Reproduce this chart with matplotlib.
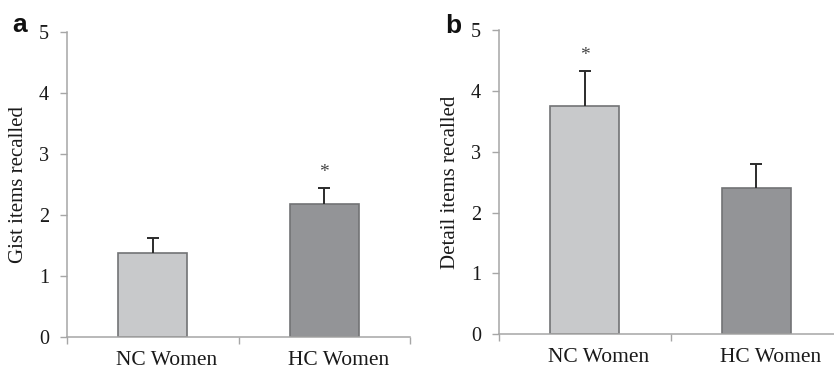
import matplotlib
matplotlib.use("Agg")
import matplotlib.pyplot as plt
from matplotlib.transforms import ScaledTranslation

categories = ["NC Women", "HC Women"]
gist_means = [1.37, 2.18]
gist_err = [0.26, 0.27]
detail_means = [3.75, 2.41]
detail_err = [0.57, 0.39]
gist_sig = [False, True]
detail_sig = [True, False]
yticks = [0, 1, 2, 3, 4, 5]

bar_colors = ["#c8c9cb", "#939497"]
edge_col = "#727375"
axis_col = "#a6a6a6"
text_col = "#1a1a1a"

plt.rcParams["font.family"] = ["Liberation Serif", "DejaVu Serif"]

fig = plt.figure(figsize=(8.34, 3.71), dpi=100)
ax_a = fig.add_axes([67/834, 34/371, 343/834, 305/371])
ax_b = fig.add_axes([499/834, 36.7/371, 343/834, 304.3/371])

def draw(ax, means, errs, sig, ylabel, letter, lx, ly):
    centers = [i + 0.5 for i in range(len(categories))]
    ax.bar(centers, means, width=0.4, color=bar_colors, edgecolor=edge_col,
           linewidth=1.2, zorder=2)
    eb = ax.errorbar(centers, means, yerr=[[0]*len(errs), errs], fmt="none",
                     ecolor="#2b2b2b", elinewidth=1.4, capsize=4.2, capthick=1.4, zorder=3)
    caps = eb[1]
    if len(caps) == 2:
        caps[0].set_visible(False)
    for c, m, e, s in zip(centers, means, errs, sig):
        if s:
            ax.annotate("*", (c, m + e), xytext=(0, 5), textcoords="offset points",
                        ha="center", va="bottom", fontsize=14, color="#444444")
    ax.set_xlim(0, len(categories))
    ax.set_ylim(0, 5)
    ax.set_yticks(yticks)
    ax.set_yticklabels([str(t) for t in yticks], fontsize=14.5, color=text_col)
    ax.set_xticks(range(len(categories) + 1))
    ax.set_xticklabels([])
    ax.set_xticks(centers, minor=True)
    ax.set_xticklabels(categories, minor=True, fontsize=15.5, color=text_col)
    ax.tick_params(axis="x", which="minor", length=0, pad=10)
    ax.tick_params(axis="x", which="major", length=5, width=1, color=axis_col, direction="out")
    ax.tick_params(axis="y", length=5, width=1, color=axis_col, direction="out", pad=8)
    off = ScaledTranslation(14/100, 0, fig.dpi_scale_trans)
    for lab in ax.get_xticklabels(minor=True):
        lab.set_transform(lab.get_transform() + off)
    for sp in ["top", "right"]:
        ax.spines[sp].set_visible(False)
    for sp in ["left", "bottom"]:
        ax.spines[sp].set_color(axis_col)
        ax.spines[sp].set_linewidth(1.1)
    ax.set_ylabel(ylabel, fontsize=15, color=text_col, labelpad=8)
    fig.text(lx, ly, letter, fontsize=19, fontweight="bold",
             family=["Liberation Sans", "DejaVu Sans"], color="#111111",
             ha="left", va="baseline")

draw(ax_a, gist_means, gist_err, gist_sig, "Gist items recalled", "a", 12/834, 339/371)
draw(ax_b, detail_means, detail_err, detail_sig, "Detail items recalled", "b", 445/834, 338/371)

fig.savefig("out.png", dpi=100)
